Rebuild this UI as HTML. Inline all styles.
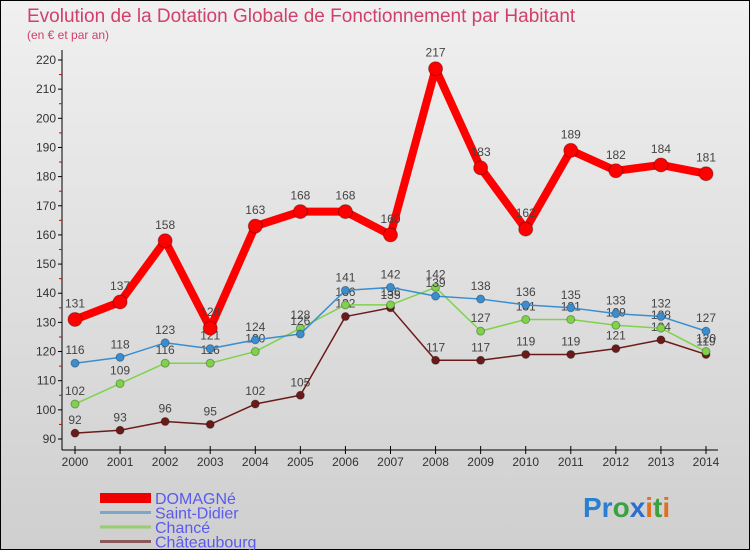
<!DOCTYPE html>
<html><head><meta charset="utf-8"><style>
body{margin:0;width:750px;height:550px;overflow:hidden;font-family:"Liberation Sans",sans-serif}
#c{position:absolute;left:0;top:0}
</style></head><body>
<svg id="c" width="750" height="550" xmlns="http://www.w3.org/2000/svg">
<defs><linearGradient id="bg" x1="0" y1="0" x2="0" y2="1"><stop offset="0" stop-color="#f0f0f0"/><stop offset="1" stop-color="#cfcfcf"/></linearGradient></defs>
<rect x="0.5" y="0.5" width="749" height="549" fill="url(#bg)" stroke="#000"/>
<text x="27" y="22" font-size="19" fill="#d0406a">Evolution de la Dotation Globale de Fonctionnement par Habitant</text>
<text x="27" y="39" font-size="12" fill="#d0406a">(en € et par an)</text>
<g id="axes"></g>
<g id="series"></g>
<g id="legend"></g>
<text x="583" y="517" font-size="28" font-weight="bold"><tspan fill="#2a7fd0">Pr</tspan><tspan fill="#3aa040">o</tspan><tspan fill="#2a6fd0">x</tspan><tspan fill="#e07020">i</tspan><tspan fill="#3aa040">t</tspan><tspan fill="#e07020">i</tspan></text>
</svg>
<script>
const years=[2000,2001,2002,2003,2004,2005,2006,2007,2008,2009,2010,2011,2012,2013,2014];
const domagne=[131,137,158,128,163,168,168,160,217,183,162,189,182,184,181];
const saintDidier=[116,118,123,121,124,126,141,142,139,138,136,135,133,132,127];
const chance=[102,109,116,116,120,128,136,136,142,127,131,131,129,128,120];
const chateaubourg=[92,93,96,95,102,105,132,135,117,117,119,119,121,124,119];
const yTicks=[90,100,110,120,130,140,150,160,170,180,190,200,210,220];
const NS="http://www.w3.org/2000/svg";
function X(i){return 75+i*(706-75)/14;}
function Y(v){return 439-(v-90)*(439-60)/130;}
function mk(tag,attrs,parent){const e=document.createElementNS(NS,tag);for(const k in attrs)e.setAttribute(k,attrs[k]);parent.appendChild(e);return e;}
const ax=document.getElementById('axes');
let a=mk('line',{x1:62,y1:50,x2:62,y2:450,stroke:'#000'},ax);


a=mk('line',{x1:62,y1:450,x2:718,y2:450,stroke:'#000'},ax);


yTicks.forEach(v=>{
  mk('line',{x1:58,y1:Y(v),x2:62,y2:Y(v),stroke:'#000'},ax);
  if(v<220)mk('line',{x1:59,y1:Y(v+5),x2:62,y2:Y(v+5),stroke:'#d00'},ax);
  const t=mk('text',{x:56,y:Y(v)+4,'font-size':12,'text-anchor':'end',fill:'#333'},ax);t.textContent=v;
  
  
});
years.forEach((y,i)=>{
  mk('line',{x1:X(i),y1:446,x2:X(i),y2:454,stroke:'#000'},ax);
  const t=mk('text',{x:X(i),y:466,'font-size':12,'text-anchor':'middle',fill:'#333'},ax);t.textContent=y;
  
  
});
const sg=document.getElementById('series');
function draw(data,color,w,r,name){
  const g=mk('g',{},sg);
  
  
  const p=mk('polyline',{points:data.map((v,i)=>X(i)+','+Y(v)).join(' '),fill:'none',stroke:color,'stroke-width':w,'stroke-linejoin':'round'},g);
  
  
  data.forEach((v,i)=>{
    const c=mk('circle',{cx:X(i),cy:Y(v),r:r,fill:color,stroke:'rgba(0,0,0,0.3)'},g);
    
    
    const t=mk('text',{x:X(i),y:Y(v)-(r+5),'font-size':12,'text-anchor':'middle',fill:'#444'},g);t.textContent=v;
    
    
  });
}
draw(chateaubourg,'#6b1a1a',1.5,4,'chateaubourg');
draw(chance,'#7ed34a',1.5,4,'chance');
draw(saintDidier,'#3a8ed0',1.5,4,'saint-didier');
draw(domagne,'#ff0000',8,7,'domagne');
const lg=document.getElementById('legend');
const items=[['DOMAGNé','#ee0000',10],['Saint-Didier','#7aa8c8',3],['Chancé','#9acc70',3],['Châteaubourg','#8a5a5a',3]];
items.forEach((it,i)=>{
  const y=502+i*14.5;
  const l=mk('line',{x1:100,y1:y-4,x2:151,y2:y-4,stroke:it[1],'stroke-width':it[2]},lg);
  
  
  const t=mk('text',{x:155,y:y+2,'font-size':16,fill:'#5a5aee'},lg);t.textContent=it[0];
  
  
});
</script>
</body></html>
